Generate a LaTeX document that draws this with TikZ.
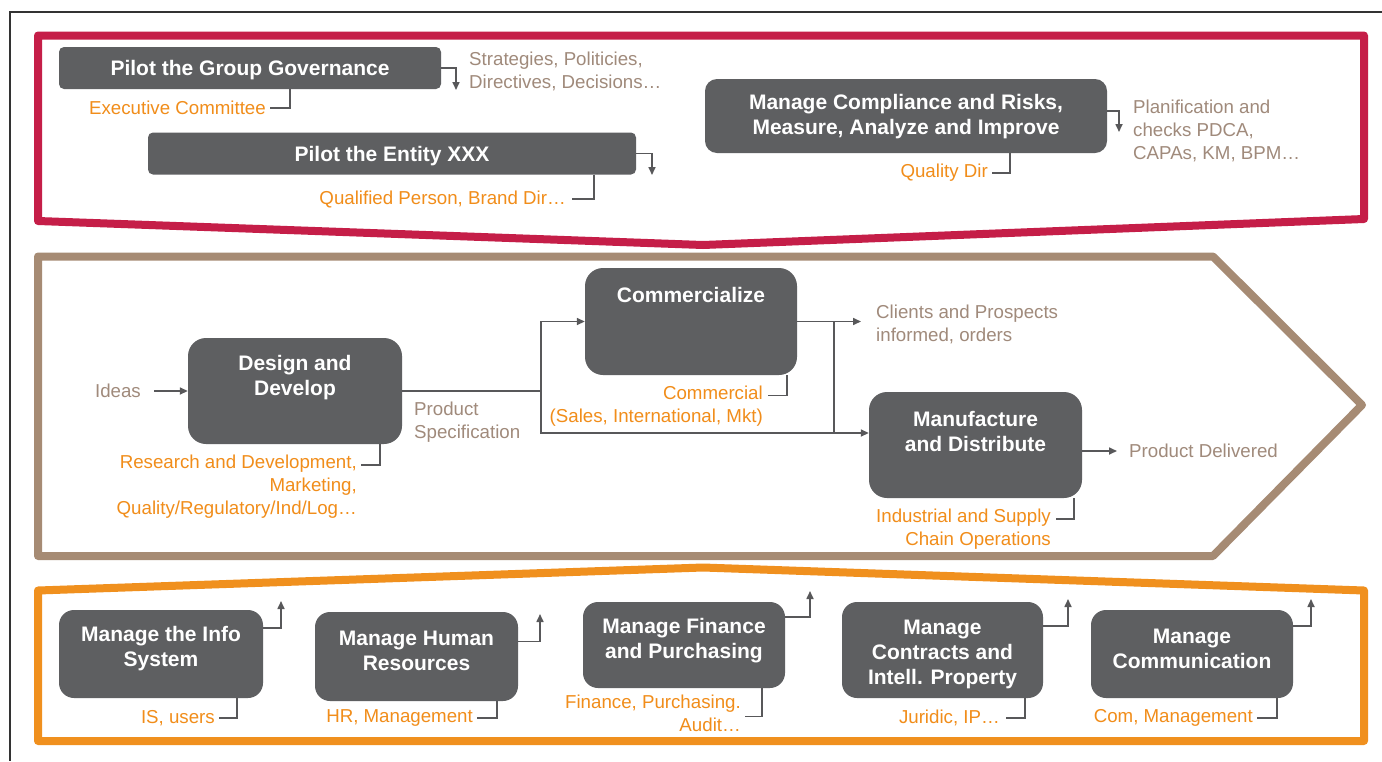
\documentclass[tikz,border=0pt]{standalone}
\usepackage{fontspec}
\setmainfont{Liberation Sans}
\usetikzlibrary{arrows.meta,calc}
\definecolor{boxgray}{HTML}{5E5F61}
\definecolor{redc}{HTML}{C51E48}
\definecolor{brownc}{HTML}{A68B74}
\definecolor{orangec}{HTML}{F0901E}
\definecolor{orangetxt}{HTML}{F18D1A}
\definecolor{graytxt}{HTML}{A08A7B}
\definecolor{connc}{HTML}{58585A}
\begin{document}
\begin{tikzpicture}[x=1pt,y=-1pt,
  btext/.style={font=\fontsize{21}{25}\selectfont\bfseries, text=white, align=center, inner sep=0pt},
  box/.style={fill=boxgray, inner sep=0pt},
  lab/.style={font=\fontsize{18.7}{23}\selectfont, inner sep=0pt},
  glab/.style={lab, text=graytxt, align=left},
  olab/.style={lab, text=orangetxt, align=right},
  conn/.style={draw=connc, line width=1.6pt},
  arr/.style={conn, -{Triangle[length=8pt,width=7pt]}},
  band/.style={line width=8pt, line join=round}]
\useasboundingbox (0,0) rectangle (1382,761);
\fill[white] (0,0) rectangle (1382,761);
% frame
\draw[line width=1.5pt, black!80] (1382,12) -- (10,12) -- (10,761);
% bands
\draw[band, draw=redc] (38,35.5) -- (1364,35.5) -- (1364,219) -- (703,245) -- (38,221) -- cycle;
\draw[band, draw=brownc] (38,256.5) -- (1213,256.5) -- (1362,405) -- (1213,556) -- (38,556) -- cycle;
\draw[band, draw=orangec] (38,590.5) -- (703,567.5) -- (1364,590.5) -- (1364,741) -- (38,741) -- cycle;

% ---------- top section ----------
\node[box, rounded corners=5pt, minimum width=382pt, minimum height=42pt] (gov) at (250,68) {};
\node[btext] (govt) at (250,70) {Pilot the Group Governance};
\coordinate (govout) at (456,90);
\draw[arr] (gov.east) -| (govout);
\node[glab, anchor=west] (strat) at (469,71) {Strategies, Politicies,\\Directives, Decisions…};
\node[olab, anchor=east] (exec) at (266,108) {Executive Committee};
\draw[conn] ([xshift=-151pt]gov.south east) |- ([xshift=4pt]exec.east);

\node[box, rounded corners=5pt, minimum width=488pt, minimum height=42pt] (ent) at (392,153.5) {};
\node[btext] (entt) at (392,156) {Pilot the Entity XXX};
\coordinate (entout) at (652,175);
\draw[arr] (ent.east) -| (entout);
\node[olab, anchor=east] (qp) at (566,199) {Qualified Person, Brand Dir…};
\draw[conn] ([xshift=-42pt]ent.south east) |- ([xshift=6pt]qp.east);

\node[box, rounded corners=12pt, minimum width=402pt, minimum height=74pt] (comp) at (906,116) {};
\node[btext] (compt) at (906,117) {Manage Compliance and Risks,\\Measure, Analyze and Improve};
\coordinate (compout) at (1119,132);
\draw[arr] ([yshift=5pt]comp.east) -| (compout);
\node[glab, anchor=west] (plan) at (1133,131) {Planification and\\checks PDCA,\\CAPAs, KM, BPM…};
\node[olab, anchor=east] (qd) at (988,173) {Quality Dir};
\draw[conn] ([xshift=-97pt]comp.south east) |- ([xshift=4pt]qd.east);

% ---------- middle section ----------
\node[box, rounded corners=18pt, minimum width=214pt, minimum height=106pt] (dd) at (295,391) {};
\node[btext] (ddt) at (295,378) {Design and\\Develop};
\node[box, rounded corners=18pt, minimum width=212pt, minimum height=107pt] (cm) at (691,321.5) {};
\node[btext] (cmt) at (691,295) {Commercialize};
\node[box, rounded corners=18pt, minimum width=213pt, minimum height=106pt] (mf) at (975.5,445) {};
\node[btext] (mft) at (975.5,431) {Manufacture\\and Distribute};

\node[glab, anchor=east] (ideas) at (141,391) {Ideas};
\draw[arr] ([xshift=13pt]ideas.east) -- (dd.west);
\coordinate (br) at (541,391);
\draw[conn] (dd.east) -- (br);
\draw[arr] (br) |- (cm.west);
\coordinate (mfin) at ([yshift=12pt]mf.west);
\draw[arr] (br) |- (mfin);
\coordinate (clin) at (861,321.5);
\draw[arr] (cm.east) -- (clin);
\coordinate (jn) at (834,321.5);
\draw[conn] (jn) -- (jn |- mfin);
\node[glab, anchor=west] (ps) at (414,422) {Product\\Specification};
\node[glab, anchor=west] (cl) at (876,324.5) {Clients and Prospects\\informed, orders};
\node[olab, anchor=east] (cml) at (763,406.5) {Commercial\\(Sales, International, Mkt)};
\draw[conn] ([xshift=-10pt]cm.south east) |- ([xshift=5pt,yshift=11pt]cml.east);
\node[olab, anchor=east] (rd) at (357,487) {Research and Development,\\Marketing,\\Quality/Regulatory/Ind/Log…};
\draw[conn] ([xshift=-22pt]dd.south east) |- ([xshift=4pt,yshift=22pt]rd.east);
\node[glab, anchor=west] (pd) at (1129,451) {Product Delivered};
\draw[arr] ([yshift=-6pt]mf.east) -- ([xshift=-12pt]pd.west);
\node[olab, anchor=east] (ind) at (1051,529.5) {Industrial and Supply\\Chain Operations};
\draw[conn] ([xshift=-8pt]mf.south east) |- ([xshift=5pt,yshift=10.5pt]ind.east);

% ---------- bottom section ----------
\node[box, rounded corners=15pt, minimum width=204pt, minimum height=88pt] (info) at (161,654) {};
\node[btext] (infot) at (161,649) {Manage the Info\\System};
\coordinate (infoout) at (281,601);
\draw[arr] ([yshift=26pt]info.east) -| (infoout);
\node[olab, anchor=east] (isl) at (215,718) {IS, users};
\draw[conn] ([xshift=-26pt]info.south east) |- ([xshift=4pt]isl.east);

\node[box, rounded corners=15pt, minimum width=203pt, minimum height=89pt] (hr) at (416.5,656.5) {};
\node[btext] (hrt) at (416.5,651) {Manage Human\\Resources};
\coordinate (hrout) at (540,614);
\draw[arr] ([yshift=15pt]hr.east) -| (hrout);
\node[olab, anchor=east] (hrl) at (473,718) {HR, Management};
\draw[conn] ([xshift=-21pt]hr.south east) |- ([xshift=4pt]hrl.east);

\node[box, rounded corners=15pt, minimum width=202pt, minimum height=86pt] (fin) at (684,645) {};
\node[btext] (fint) at (684,641) {Manage Finance\\and Purchasing};
\coordinate (finout) at (810,591);
\draw[arr] ([yshift=28pt]fin.east) -| (finout);
\node[olab, anchor=east] (finl) at (741,713.5) {Finance, Purchasing.\\Audit…};
\draw[conn] ([xshift=-23pt]fin.south east) |- ([xshift=4pt,yshift=-3pt]finl.east);

\node[box, rounded corners=15pt, minimum width=201pt, minimum height=96pt] (ct) at (942.5,650) {};
\node[btext] (ctt) at (942.5,654) {Manage\\Contracts and\\Intell. Property};
\coordinate (ctout) at (1068,599);
\draw[arr] ([yshift=24pt]ct.east) -| (ctout);
\node[olab, anchor=east] (ctl) at (1000,718) {Juridic, IP…};
\draw[conn] ([xshift=-18pt]ct.south east) |- ([xshift=6pt]ctl.east);

\node[box, rounded corners=15pt, minimum width=202pt, minimum height=88pt] (cmn) at (1192,654) {};
\node[btext] (cmnt) at (1192,649) {Manage\\Communication};
\coordinate (cmnout) at (1311,599);
\draw[arr] ([yshift=28pt]cmn.east) -| (cmnout);
\node[olab, anchor=east] (cmnl) at (1253,718) {Com, Management};
\draw[conn] ([xshift=-16pt]cmn.south east) |- ([xshift=4pt]cmnl.east);
\end{tikzpicture}
\end{document}
